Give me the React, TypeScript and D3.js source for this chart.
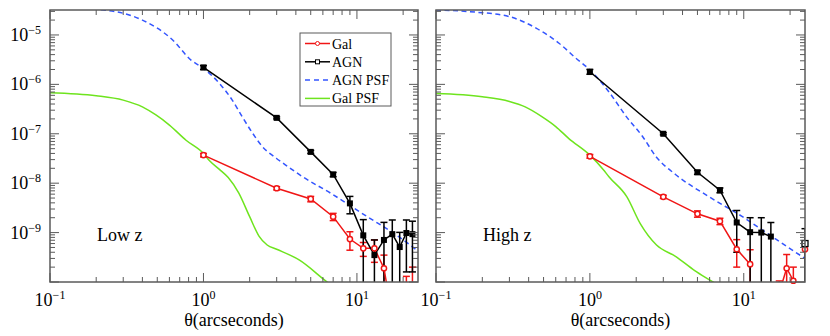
import React from 'react';
import * as d3 from 'd3';

// angular bins (arcseconds)
const bins = [1, 3, 5, 7, 9, 11, 13, 15, 17, 19, 21, 23, 25];

// Low z
const lowAgn = [2.2e-6, 2.1e-7, 4.3e-8, 1.5e-8, 3.9e-9, 8.8e-10, 3.5e-10, 7.1e-10, 9.3e-10, 5.1e-10, 9.8e-10, 9.3e-10, null];
const lowAgnErr = [2e-7, 1e-8, 3e-9, 1.5e-9, 1.5e-9, 9.5e-10, 3.6e-10, 9e-10, 8.7e-10, 5e-10, 8.2e-10, 7.7e-10, null];
const lowGal = [3.7e-8, 7.9e-9, 4.8e-9, 2.1e-9, 7.4e-10, 4.8e-10, 4.8e-10, 1.9e-10, 2e-11, null, 7e-11, 9e-11, null];
const lowGalErr = [3e-9, 6e-10, 6e-10, 3.5e-10, 3e-10, 1.5e-10, 2.3e-10, 1.6e-10, 2e-11, null, 6e-11, 1.1e-10, null];

// High z
const highAgn = [1.8e-6, 1.0e-7, 1.66e-8, 7.2e-9, 1.6e-9, 1.02e-9, 1.0e-9, 8.3e-10, null, null, null, null, 6e-10];
const highAgnErr = [2e-7, 5e-9, 1.5e-9, 8e-10, 1.2e-9, 9.8e-10, 1e-9, 7.7e-10, null, null, null, null, 6e-10];
const highGal = [3.5e-8, 5.3e-9, 2.4e-9, 1.7e-9, 4.6e-10, 2.3e-10, null, null, 6e-11, 1.9e-10, 1.06e-10, null, 4.6e-10];
const highGalErr = [3e-9, 4e-10, 3.5e-10, 2.5e-10, 2.6e-10, 2.2e-10, null, null, 4.5e-11, 1.7e-10, 9.4e-11, null, 0];

// PSF curves
const lowAgnPsfX = [0.1, 0.15, 0.224, 0.3, 0.4, 0.63, 0.83, 1.0, 1.27, 1.54, 1.79, 2.08, 2.42, 2.98, 3.6, 4.2, 6.9, 11.4, 18.7, 25];
const lowAgnPsfY = [3.6e-5, 3.5e-5, 3.2e-5, 2.75e-5, 2.0e-5, 7.9e-6, 3.1e-6, 2.1e-6, 1.05e-6, 4.8e-7, 2.2e-7, 1.05e-7, 5.5e-8, 3.2e-8, 2.1e-8, 1.5e-8, 6e-9, 2.2e-9, 8.3e-10, 4.2e-10];
const highAgnPsfX = [0.1, 0.18, 0.3, 0.45, 0.63, 0.81, 1.0, 1.35, 1.73, 2.2, 2.7, 3.6, 5.9, 9.8, 15.9, 25];
const highAgnPsfY = [3.2e-5, 2.9e-5, 2.35e-5, 1.36e-5, 6.8e-6, 3.4e-6, 1.96e-6, 6.6e-7, 2.2e-7, 8.8e-8, 3.4e-8, 1.5e-8, 5.4e-9, 2.1e-9, 7.6e-10, 3e-10];
const lowGalPsfX = [0.1, 0.2, 0.3, 0.4, 0.49, 0.6, 0.77, 1.0, 1.1, 1.27, 1.45, 1.7, 2.0, 2.3, 2.6, 3.0, 4.2, 6.4, 7.5];
const lowGalPsfY = [6.8e-7, 5.9e-7, 4.8e-7, 3.5e-7, 2.4e-7, 1.5e-7, 7.4e-8, 4.0e-8, 2.8e-8, 1.9e-8, 1.3e-8, 6.3e-9, 2.1e-9, 8.5e-10, 5.6e-10, 4.6e-10, 2.8e-10, 1e-10, 7e-11];
const highGalPsfX = [0.1, 0.2, 0.3, 0.38, 0.49, 0.6, 0.73, 1.0, 1.22, 1.33, 1.74, 2.13, 2.71, 3.6, 4.8, 6.3, 7.5];
const highGalPsfY = [6.5e-7, 5.6e-7, 4.5e-7, 3.5e-7, 2.2e-7, 1.4e-7, 8.0e-8, 3.7e-8, 1.9e-8, 1.35e-8, 5.3e-9, 1.5e-9, 5.6e-10, 3.3e-10, 1.7e-10, 1e-10, 7e-11];

const xTickLabels = ['-1', '0', '1'];
const yTickLabels = ['-9', '-8', '-7', '-6', '-5'];

const RED = '#f01515';
const BLUE = '#3355ff';
const GREEN = '#6ee41e';
const FRAME = '#5a5a5a';
const FONT = "'Liberation Serif', 'Times New Roman', 'DejaVu Serif', serif";

const top = 10, bottom = 282;

function minorTicks(lo: number, hi: number) {
  const out: number[] = [];
  for (let e = Math.floor(Math.log10(lo)); e <= Math.ceil(Math.log10(hi)); e++) {
    for (let m = 2; m <= 9; m++) {
      const v = m * Math.pow(10, e);
      if (v > lo && v < hi) out.push(v);
    }
  }
  return out;
}

function Panel({ id, x0, x1, showY, label, agn, agnErr, gal, galErr, aPsfX, aPsfY, gPsfX, gPsfY, legend }: any) {
  const x = d3.scaleLog().domain([0.1, 25]).range([x0, x1]);
  const y = d3.scaleLog().domain([1e-10, 3.2e-5]).range([bottom, top]);

  const pts = (vals: (number | null)[]) => bins.map((b, i) => ({ b, v: vals[i] }));
  const line = d3.line<any>()
    .defined(d => d.v != null && d.v > 0)
    .x(d => x(d.b))
    .y(d => y(d.v));

  const psfPath = (xs: number[], ys: number[]) =>
    d3.line<number>().x(d => x(xs[d])).y(d => y(ys[d])).curve(d3.curveMonotoneX)(xs.map((_, i) => i));

  const errBars = (vals: (number | null)[], errs: (number | null)[], color: string) =>
    bins.map((b, i) => {
      const v = vals[i], e = errs[i];
      if (v == null || e == null || e === 0) return null;
      const hi = v + e, lo = v - e;
      const yh = y(hi);
      const yl = lo > 0 ? y(lo) : bottom + 20;
      const cx = x(b);
      return (
        <g key={i} stroke={color} strokeWidth={1.5}>
          <line x1={cx} x2={cx} y1={yh} y2={yl} />
          <line x1={cx - 3.5} x2={cx + 3.5} y1={yh} y2={yh} />
          <line x1={cx - 3.5} x2={cx + 3.5} y1={yl} y2={yl} />
        </g>
      );
    });

  const inView = (v: number | null) => v != null && v >= 1e-10 && v <= 3.2e-5;

  const xMajor = [0.1, 1, 10];
  const xMinor = minorTicks(0.1, 25);
  const yMajor = [1e-10, 1e-9, 1e-8, 1e-7, 1e-6, 1e-5];
  const yMinor = minorTicks(1e-10, 3.2e-5);

  return (
    <g>
      <defs>
        <clipPath id={id}>
          <rect x={x0} y={top} width={x1 - x0} height={bottom - top} />
        </clipPath>
      </defs>
      <g clipPath={`url(#${id})`} fill="none">
        <path d={psfPath(gPsfX, gPsfY) || ''} stroke={GREEN} strokeWidth={1.5} />
        <path d={psfPath(aPsfX, aPsfY) || ''} stroke={BLUE} strokeWidth={1.5} strokeDasharray="5,3.5" />
        {errBars(gal, galErr, RED)}
        {errBars(agn, agnErr, 'black')}
        <path d={line(pts(gal)) || ''} stroke={RED} strokeWidth={1.5} />
        <path d={line(pts(agn)) || ''} stroke="black" strokeWidth={1.5} />
      </g>
      {bins.map((b, i) => inView(gal[i]) ? (
        <circle key={'g' + i} cx={x(b)} cy={y(gal[i] as number)} r={2.6} fill="white" stroke={RED} strokeWidth={1.5} />
      ) : null)}
      {bins.map((b, i) => inView(agn[i]) ? (
        <rect key={'a' + i} x={x(b) - 3} y={y(agn[i] as number) - 3} width={6} height={6}
          fill={b === 25 ? 'white' : 'black'} stroke="black" strokeWidth={b === 25 ? 1.3 : 0} />
      ) : null)}

      {/* frame and ticks */}
      <rect x={x0} y={top} width={x1 - x0} height={bottom - top} fill="none" stroke={FRAME} strokeWidth={1.5} />
      <g stroke={FRAME} strokeWidth={1}>
        {xMajor.map(v => (
          <g key={'xM' + v}>
            <line x1={x(v)} x2={x(v)} y1={bottom} y2={bottom - 9} />
            <line x1={x(v)} x2={x(v)} y1={top} y2={top + 9} />
          </g>
        ))}
        {xMinor.map(v => (
          <g key={'xm' + v}>
            <line x1={x(v)} x2={x(v)} y1={bottom} y2={bottom - 5} />
            <line x1={x(v)} x2={x(v)} y1={top} y2={top + 5} />
          </g>
        ))}
        {yMajor.map(v => (
          <g key={'yM' + v}>
            <line x1={x0} x2={x0 + 9} y1={y(v)} y2={y(v)} />
            <line x1={x1} x2={x1 - 9} y1={y(v)} y2={y(v)} />
          </g>
        ))}
        {yMinor.map(v => (
          <g key={'ym' + v}>
            <line x1={x0} x2={x0 + 5} y1={y(v)} y2={y(v)} />
            <line x1={x1} x2={x1 - 5} y1={y(v)} y2={y(v)} />
          </g>
        ))}
      </g>

      {/* tick labels */}
      <g style={{ fontFamily: FONT }} fill="black">
        {xMajor.map((v, i) => (
          <text key={'xl' + v} x={x(v)} y={306} textAnchor="middle" fontSize={18}>
            10<tspan dy={-7} fontSize={12}>{xTickLabels[i].replace('-', '\u2212')}</tspan>
          </text>
        ))}
        {showY && yMajor.slice(1).map((v, i) => (
          <text key={'yl' + v} x={x0 - 9} y={y(v) + 6} textAnchor="end" fontSize={18}>
            10<tspan dy={-7} fontSize={12}>{yTickLabels[i].replace('-', '\u2212')}</tspan>
          </text>
        ))}
        <text x={(x0 + x1) / 2} y={326} textAnchor="middle" fontSize={18}>θ(arcseconds)</text>
        <text x={x0 + 47} y={241} fontSize={18}>{label}</text>
      </g>

      {legend && (
        <g style={{ fontFamily: FONT }} fontSize={14}>
          <rect x={300} y={33} width={91} height={73} fill="white" stroke={FRAME} strokeWidth={1} />
          {[
            { name: 'Gal', color: RED, dash: null, mark: 'circle' },
            { name: 'AGN', color: 'black', dash: null, mark: 'square' },
            { name: 'AGN PSF', color: BLUE, dash: '5,4', mark: null },
            { name: 'Gal PSF', color: GREEN, dash: null, mark: null },
          ].map((e, i) => {
            const ly = 43.5 + i * 18.3;
            return (
              <g key={e.name}>
                <line x1={305} x2={330} y1={ly} y2={ly} stroke={e.color} strokeWidth={1.5} strokeDasharray={e.dash || undefined} />
                {e.mark === 'circle' && <circle cx={317.5} cy={ly} r={2} fill="white" stroke={e.color} strokeWidth={1} />}
                {e.mark === 'square' && <rect x={315.5} y={ly - 2} width={4} height={4} fill="white" stroke={e.color} strokeWidth={1} />}
                <text x={332} y={ly + 5} fill="black">{e.name}</text>
              </g>
            );
          })}
        </g>
      )}
    </g>
  );
}

export default function App() {
  return (
    <svg width={830} height={336} style={{ position: 'absolute', left: 0, top: 0, background: 'white' }}>
      <rect width={830} height={336} fill="white" />
      <Panel id="clipLow" x0={50} x1={418} showY label="Low z"
        agn={lowAgn} agnErr={lowAgnErr} gal={lowGal} galErr={lowGalErr}
        aPsfX={lowAgnPsfX} aPsfY={lowAgnPsfY} gPsfX={lowGalPsfX} gPsfY={lowGalPsfY} legend />
      <Panel id="clipHigh" x0={436} x1={805} showY={false} label="High z"
        agn={highAgn} agnErr={highAgnErr} gal={highGal} galErr={highGalErr}
        aPsfX={highAgnPsfX} aPsfY={highAgnPsfY} gPsfX={highGalPsfX} gPsfY={highGalPsfY} legend={false} />
    </svg>
  );
}
